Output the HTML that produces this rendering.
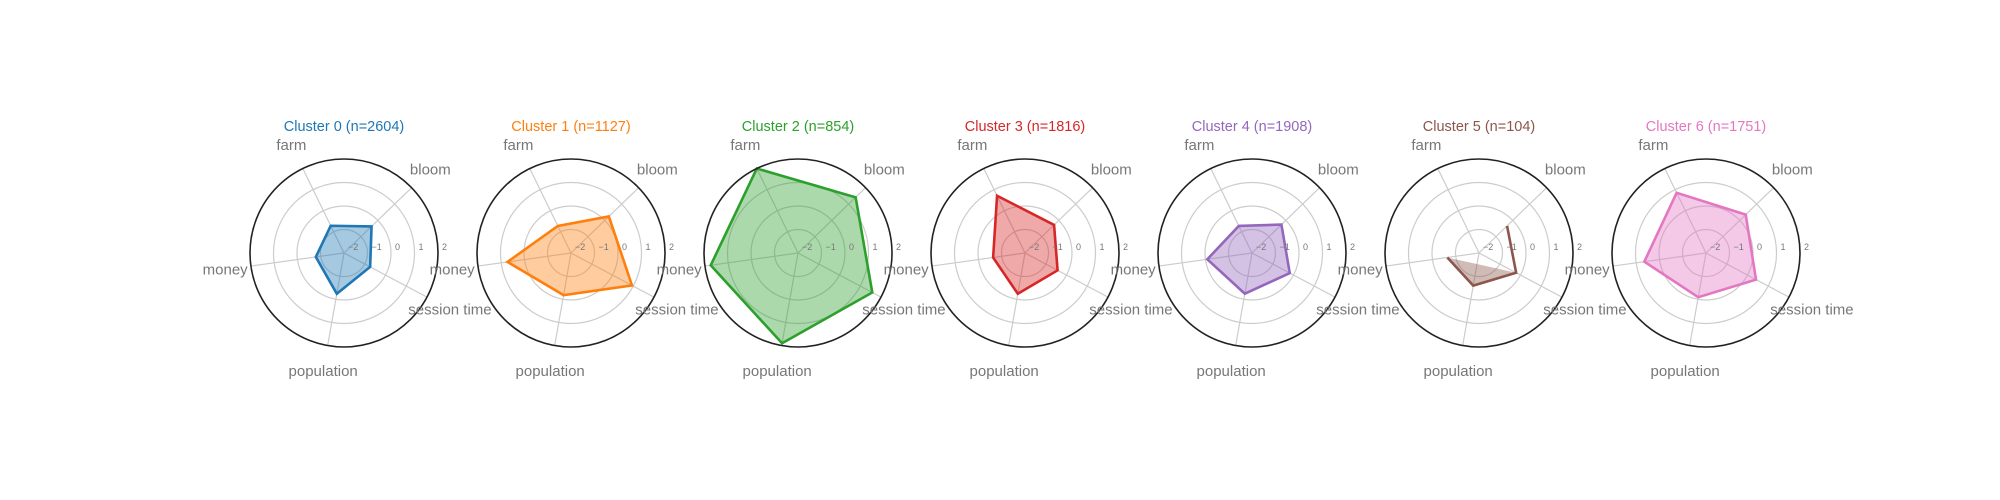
<!DOCTYPE html>
<html><head><meta charset="utf-8"><style>
html,body{margin:0;padding:0;background:#fff;}
svg{display:block;font-family:"Liberation Sans",Arial,sans-serif;}
</style></head><body>
<svg id="chart" width="2000" height="500" viewBox="0 0 2000 500" xmlns="http://www.w3.org/2000/svg"></svg>
<script>
const categories = ["bloom", "farm", "money", "population", "session time"];
const clusterNames = ["Cluster 0", "Cluster 1", "Cluster 2", "Cluster 3", "Cluster 4", "Cluster 5", "Cluster 6"];
const clusterSizes = [2604, 1127, 854, 1816, 1908, 104, 1751];
const c0 = [-0.37, -0.71, -0.79, -0.24, -0.74];
const c1 = [0.24, -0.72, 0.73, -0.18, 0.94];
const c2 = [1.41, 2.0, 1.75, 1.9, 1.58];
const c3 = [-0.28, 0.71, -0.63, -0.24, -0.43];
const c4 = [-0.26, -0.72, -0.08, -0.24, -0.18];
const c5 = [-0.34, -2.6, -0.64, -0.59, -0.21];
const c6 = [0.35, 0.85, 0.65, -0.09, 0.41];
const seriesValues = [c0, c1, c2, c3, c4, c5, c6];
const rTicks = [-2, -1, 0, 1, 2];
const rTickLabels = ["\u22122", "\u22121", "0", "1", "2"];

const colors = ["#1f77b4", "#ff7f0e", "#2ca02c", "#d62728", "#9467bd", "#8c564b", "#e377c2"];
const svg = document.getElementById('chart');
const NS = "http://www.w3.org/2000/svg";
const R = 94, RMIN = -2, RMAX = 2;
const firstCx = 344, stepX = 227, cy = 253;
const angles = [44, 116, 188, 260, 332];
function rScale(v){ return Math.max(0, (v - RMIN) / (RMAX - RMIN) * R); }
function pt(cx, i, r){ const a = angles[i] * Math.PI / 180; return [cx + r*Math.cos(a), cy - r*Math.sin(a)]; }
function mk(tag, attrs, parent){ const e = document.createElementNS(NS, tag); for (const k in attrs) e.setAttribute(k, attrs[k]); (parent||svg).appendChild(e); return e; }

seriesValues.forEach((vals, k) => {
  const cx = firstCx + k * stepX;
  const g = mk('g', {});
  
  
  // rings
  rTicks.forEach(t => {
    if (t === RMIN || t === RMAX) return;
    const c = mk('circle', {cx: cx, cy: cy, r: rScale(t), fill: 'none', stroke: '#cccccc', 'stroke-width': 1.2}, g);
    
    
  });
  // spokes
  categories.forEach((cat, i) => {
    const p = pt(cx, i, R);
    const l = mk('line', {x1: cx, y1: cy, x2: p[0], y2: p[1], stroke: '#cccccc', 'stroke-width': 1.2}, g);
    
    
  });
  // data
  const pts = vals.map((v, i) => pt(cx, i, rScale(v)));
  const inRange = vals.map(v => v >= RMIN);
  if (inRange.every(x => x)) {
    const poly = mk('polygon', {points: pts.map(p => p.join(',')).join(' '), fill: colors[k], 'fill-opacity': 0.4, stroke: colors[k], 'stroke-width': 2.6, 'stroke-linejoin': 'miter'}, g);
    
    
  } else {
    // out-of-range vertex: draw open line through remaining points
    const idx = [];
    for (let j = 1; j <= vals.length; j++) { const i = (vals.findIndex(v => v < RMIN) + j) % vals.length; if (inRange[i]) idx.push(i); }
    const order = idx.slice().reverse();
    const fillPts = order.filter((i, n) => n > 0);
    const f = mk('polygon', {points: fillPts.map(i => pts[i].join(',')).join(' '), fill: colors[k], 'fill-opacity': 0.4, stroke: 'none'}, g);
    
    
    const pl = mk('polyline', {points: order.map(i => pts[i].join(',')).join(' '), fill: 'none', stroke: colors[k], 'stroke-width': 2.6}, g);
    
    
  }
  // outer circle
  const oc = mk('circle', {cx: cx, cy: cy, r: R, fill: 'none', stroke: '#222', 'stroke-width': 1.6}, g);
  
  
  // r tick labels
  rTicks.forEach((t, i) => {
    const tx = mk('text', {x: cx + rScale(t) + 4, y: cy - 3, 'font-size': 9, fill: '#777'}, g);
    tx.textContent = rTickLabels[i];
    
    
  });
  // axis labels
  categories.forEach((cat, i) => {
    const p = pt(cx, i, 120);
    const tx = mk('text', {x: p[0], y: p[1] + 5, 'font-size': 15, fill: '#777', 'text-anchor': 'middle'}, g);
    tx.textContent = cat;
    
    
  });
  // title
  const tt = mk('text', {x: cx, y: 131, 'font-size': 14.5, fill: colors[k], 'text-anchor': 'middle'}, g);
  tt.textContent = clusterNames[k] + ' (n=' + clusterSizes[k] + ')';
  
  
});
</script>
</body></html>
